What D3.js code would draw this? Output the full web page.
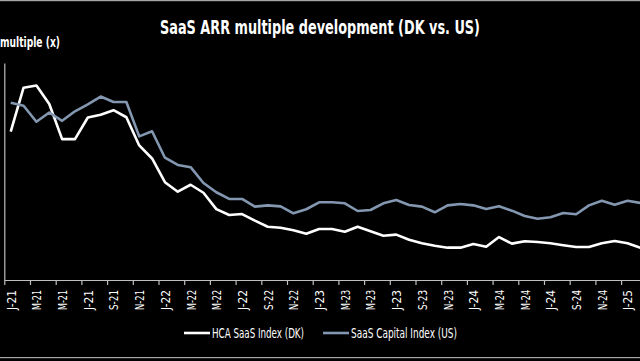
<!DOCTYPE html>
<html>
<head>
<meta charset="utf-8">
<script src="https://cdn.jsdelivr.net/npm/d3@7"></script>
<style>
  html, body { margin: 0; padding: 0; background: #000; }
  svg { display: block; }
  text { font-family: "DejaVu Sans Condensed", "Liberation Sans Narrow", sans-serif; fill: #fff; }
</style>
</head>
<body>
<div class="container"></div>
<script>
// monthly categories, Jan 2021 - Feb 2025
const months = [
  "J-21","F-21","M-21","A-21","M-21","J-21","J-21","A-21","S-21","O-21","N-21","D-21",
  "J-22","F-22","M-22","A-22","M-22","J-22","J-22","A-22","S-22","O-22","N-22","D-22",
  "J-23","F-23","M-23","A-23","M-23","J-23","J-23","A-23","S-23","O-23","N-23","D-23",
  "J-24","F-24","M-24","A-24","M-24","J-24","J-24","A-24","S-24","O-24","N-24","D-24",
  "J-25","F-25"
];

// HCA SaaS Index (DK)
const hcaValues = [
  13.67, 17.72, 17.93, 16.22, 12.98, 12.98, 14.98, 15.23, 15.65, 15.00, 12.40, 11.20,
  9.01, 8.14, 8.78, 8.04, 6.53, 5.99, 6.08, 5.47, 4.91, 4.82, 4.58, 4.27,
  4.70, 4.70, 4.45, 4.91, 4.49, 4.08, 4.18, 3.71, 3.38, 3.16, 2.98, 2.98,
  3.32, 3.07, 3.96, 3.35, 3.57, 3.50, 3.38, 3.20, 3.04, 3.04, 3.38, 3.59,
  3.38, 2.98
];

// SaaS Capital Index (US)
const usValues = [
  16.34, 16.06, 14.59, 15.44, 14.67, 15.55, 16.18, 16.91, 16.41, 16.41, 13.24, 13.71,
  11.27, 10.60, 10.40, 8.94, 8.09, 7.47, 7.47, 6.76, 6.88, 6.79, 6.15, 6.52,
  7.16, 7.16, 7.07, 6.36, 6.45, 7.07, 7.37, 6.91, 6.76, 6.24, 6.88, 7.00,
  6.88, 6.54, 6.79, 6.39, 5.90, 5.65, 5.78, 6.18, 6.06, 6.88, 7.31, 6.94,
  7.31, 7.10
];

const seriesNames = ["HCA SaaS Index (DK)", "SaaS Capital Index (US)"];
const seriesColors = ["#ffffff", "#8497b0"];

const width = 640;
const height = 361;
const marginTop = 63;
const marginBottom = 81;
const marginLeft = 4.3;
const bandWidth = 12.85;

const x = d3.scaleLinear()
  .domain([-0.5, months.length - 0.5])
  .range([marginLeft, marginLeft + months.length * bandWidth]);

const y = d3.scaleLinear()
  .domain([0, 20])
  .range([height - marginBottom, marginTop]);

const svg = d3.select(".container")
  .append("svg")
  .attr("width", width)
  .attr("height", height);

svg.append("rect")
  .attr("width", width)
  .attr("height", height)
  .attr("fill", "#000");

// thin frame lines top and bottom
svg.append("rect").attr("x", 0).attr("y", 0).attr("width", width).attr("height", 1.2).attr("fill", "#a6a6a6");
svg.append("rect").attr("x", 0).attr("y", 357).attr("width", width).attr("height", 1.2).attr("fill", "#a6a6a6");

// title (condensed to match the narrow face of the original)
svg.append("text")
  .attr("x", 160)
  .attr("y", 34)
  .attr("textLength", 320)
  .attr("lengthAdjust", "spacingAndGlyphs")
  .style("font-size", "19px")
  .style("font-weight", "bold")
  .text("SaaS ARR multiple development (DK vs. US)");

svg.append("text")
  .attr("x", 0)
  .attr("y", 47)
  .attr("textLength", 60)
  .attr("lengthAdjust", "spacingAndGlyphs")
  .style("font-size", "14px")
  .style("font-weight", "bold")
  .text("multiple (x)");

// y axis (line only)
svg.append("g")
  .attr("transform", `translate(${marginLeft},0)`)
  .call(d3.axisLeft(y).tickValues([]).tickSizeOuter(0))
  .call(g => g.select(".domain").attr("stroke", "#bfbfbf").attr("stroke-width", 1.2));

// x axis: tick marks on category boundaries, every second month
const idx = months.map((d, i) => i);
const labelIdx = idx.filter(i => i % 2 === 0);

svg.append("g")
  .attr("transform", `translate(0,${height - marginBottom})`)
  .call(d3.axisBottom(x)
    .tickValues(labelIdx.map(i => i - 0.5))
    .tickFormat("")
    .tickSizeInner(5)
    .tickSizeOuter(0))
  .call(g => g.select(".domain").attr("stroke", "#bfbfbf").attr("stroke-width", 1.2))
  .call(g => g.selectAll(".tick line").attr("stroke", "#bfbfbf").attr("stroke-width", 1.2));

svg.append("g")
  .attr("transform", `translate(0,${height - marginBottom})`)
  .call(d3.axisBottom(x)
    .tickValues(labelIdx)
    .tickFormat(i => months[i])
    .tickSize(0))
  .call(g => g.select(".domain").remove())
  .call(g => g.selectAll(".tick text")
    .attr("fill", "#fff")
    .style("font-size", "12.5px")
    .style("font-family", "\"DejaVu Sans Condensed\", sans-serif")
    .attr("textLength", 20)
    .attr("lengthAdjust", "spacingAndGlyphs")
    .attr("text-anchor", "end")
    .attr("x", 0)
    .attr("y", 0)
    .attr("dy", "0.35em")
    .attr("transform", "translate(0,10) rotate(-90)"));

// lines
const line = d3.line()
  .x((d, i) => x(i))
  .y(d => y(d));

[hcaValues, usValues].forEach((vals, k) => {
  svg.append("path")
    .datum(vals)
    .attr("fill", "none")
    .attr("stroke", seriesColors[k])
    .attr("stroke-width", 2.6)
    .attr("stroke-linejoin", "round")
    .attr("d", line);
});

// legend
const legendX = [184, 323];
const legendTextLen = [92, 106];
const legend = svg.append("g").attr("transform", "translate(0,333)");
seriesNames.forEach((name, k) => {
  const g = legend.append("g").attr("transform", `translate(${legendX[k]},0)`);
  g.append("line")
    .attr("x1", 0).attr("x2", 26)
    .attr("stroke", seriesColors[k])
    .attr("stroke-width", 2.6);
  g.append("text")
    .attr("x", 28)
    .attr("dy", "0.35em")
    .attr("textLength", legendTextLen[k])
    .attr("lengthAdjust", "spacingAndGlyphs")
    .style("font-size", "14px")
    .text(name);
});
</script>
</body>
</html>
